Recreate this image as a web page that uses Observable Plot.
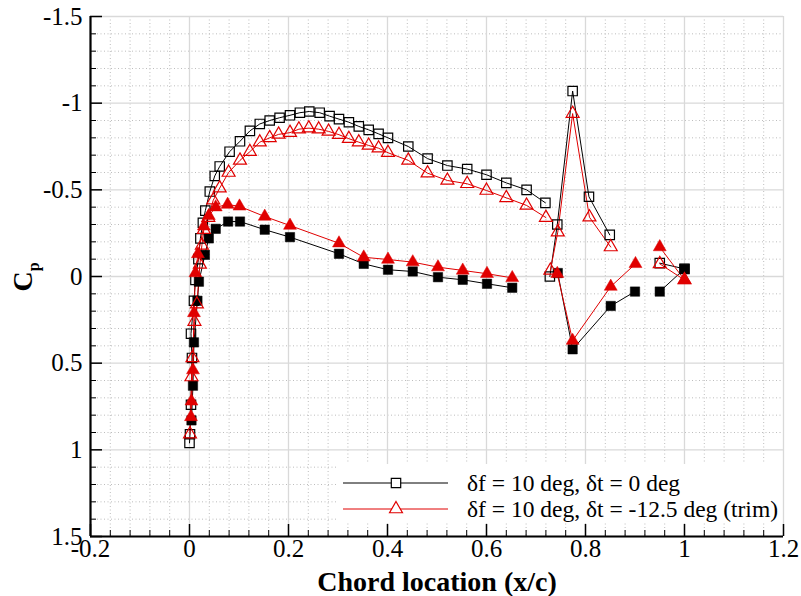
<!DOCTYPE html>
<html><head><meta charset="utf-8">
<script src="https://cdn.jsdelivr.net/npm/d3@7"></script>
<script src="https://cdn.jsdelivr.net/npm/@observablehq/plot@0.6"></script>
<style>
body{margin:0;background:#fff;}
#wrap{position:relative;width:801px;height:596px;font-family:"Liberation Serif","Times New Roman",serif;}
#wrap svg{display:block;}
.ov{position:absolute;left:0;top:0;pointer-events:none;}
</style></head><body><div id="wrap"></div>
<script>
// axis ticks
const xMajor = [-0.2, 0, 0.2, 0.4, 0.6, 0.8, 1, 1.2];
const yMajor = [-1.5, -1, -0.5, 0, 0.5, 1, 1.5];
const xMinor = d3.range(0, 36).filter(i => i % 5 !== 0).map(i => +(-0.2 + i * 0.04).toFixed(3));
const yMinor = d3.range(0, 31).filter(i => i % 5 !== 0).map(i => +(-1.5 + i * 0.1).toFixed(2));

// series 1: δf = 10 deg, δt = 0 deg (black)
const blackUpperX = [0.000, 0.001, 0.003, 0.005, 0.003, 0.009, 0.012, 0.018, 0.022, 0.027, 0.032, 0.041, 0.051, 0.061, 0.081, 0.102, 0.122, 0.142, 0.162, 0.182, 0.203, 0.223, 0.242, 0.263, 0.283, 0.302, 0.322, 0.342, 0.362, 0.382, 0.401, 0.442, 0.481, 0.521, 0.561, 0.600, 0.640, 0.681, 0.719];
const blackUpperCp = [0.96, 0.91, 0.74, 0.47, 0.33, 0.14, 0.02, -0.10, -0.22, -0.31, -0.38, -0.49, -0.58, -0.635, -0.72, -0.78, -0.84, -0.88, -0.90, -0.916, -0.93, -0.945, -0.952, -0.945, -0.925, -0.908, -0.89, -0.866, -0.846, -0.823, -0.80, -0.75, -0.68, -0.64, -0.62, -0.587, -0.54, -0.50, -0.425];
const blackLowerX = [0.004, 0.007, 0.009, 0.016, 0.019, 0.031, 0.039, 0.053, 0.078, 0.102, 0.152, 0.203, 0.302, 0.352, 0.401, 0.451, 0.502, 0.552, 0.601, 0.652];
const blackLowerCp = [0.83, 0.63, 0.38, 0.14, 0.03, -0.125, -0.22, -0.275, -0.317, -0.317, -0.27, -0.227, -0.131, -0.073, -0.039, -0.029, 0.004, 0.019, 0.042, 0.065];
const blackFlapUpperX = [0.728, 0.743, 0.774, 0.807, 0.849];
const blackFlapUpperCp = [0.0, -0.30, -1.07, -0.46, -0.24];
const blackFlapLowerX = [0.744, 0.774, 0.851, 0.900];
const blackFlapLowerCp = [-0.02, 0.42, 0.17, 0.087];
const blackTabUpperX = [0.95, 1.0];
const blackTabUpperCp = [-0.077, -0.044];
const blackTabLowerX = [0.95, 1.0];
const blackTabLowerCp = [0.087, -0.044];

// series 2: δf = 10 deg, δt = -12.5 deg (trim) (red)
const redUpperX = [0.001, 0.004, 0.006, 0.010, 0.015, 0.021, 0.025, 0.029, 0.038, 0.048, 0.061, 0.079, 0.102, 0.122, 0.142, 0.162, 0.180, 0.203, 0.221, 0.241, 0.261, 0.281, 0.302, 0.322, 0.342, 0.362, 0.382, 0.401, 0.442, 0.481, 0.521, 0.561, 0.600, 0.640, 0.681, 0.720];
const redUpperCp = [0.91, 0.58, 0.47, 0.26, 0.16, -0.07, -0.18, -0.27, -0.34, -0.44, -0.51, -0.60, -0.67, -0.72, -0.775, -0.80, -0.82, -0.83, -0.85, -0.856, -0.85, -0.837, -0.818, -0.795, -0.775, -0.756, -0.74, -0.714, -0.67, -0.596, -0.554, -0.535, -0.496, -0.454, -0.41, -0.34];
const redLowerX = [0.003, 0.004, 0.007, 0.009, 0.012, 0.017, 0.029, 0.039, 0.053, 0.077, 0.101, 0.152, 0.203, 0.302, 0.352, 0.401, 0.451, 0.502, 0.552, 0.601, 0.652];
const redLowerCp = [0.81, 0.72, 0.54, 0.21, -0.02, -0.13, -0.29, -0.35, -0.40, -0.415, -0.405, -0.346, -0.294, -0.192, -0.111, -0.098, -0.083, -0.054, -0.035, -0.016, 0.008];
const redFlapUpperX = [0.729, 0.744, 0.774, 0.808, 0.851];
const redFlapUpperCp = [-0.035, -0.256, -0.94, -0.342, -0.17];
const redFlapLowerX = [0.743, 0.774, 0.851, 0.901];
const redFlapLowerCp = [-0.016, 0.37, 0.058, -0.073];
const redTabUpperX = [0.95, 1.0];
const redTabUpperCp = [-0.073, 0.02];
const redTabLowerX = [0.95, 1.0];
const redTabLowerCp = [-0.17, 0.02];

const legendLabels = ["\u03b4f = 10 deg, \u03b4t = 0 deg", "\u03b4f = 10 deg, \u03b4t = -12.5 deg (trim)"];
const BLACK = "#000000", RED = "#e00000";

function seg(xs, cps, key, open) { return xs.map((x, i) => ({x, cp: cps[i], key, open})); }
const black = [
  ...seg(blackUpperX, blackUpperCp, "bu", true),
  ...seg(blackLowerX, blackLowerCp, "bl", false),
  ...seg(blackFlapUpperX, blackFlapUpperCp, "bfu", true),
  ...seg(blackFlapLowerX, blackFlapLowerCp, "bfl", false),
  ...seg(blackTabUpperX, blackTabUpperCp, "btu", true),
  ...seg(blackTabLowerX, blackTabLowerCp, "btl", false)
];
const red = [
  ...seg(redUpperX, redUpperCp, "ru", true),
  ...seg(redLowerX, redLowerCp, "rl", false),
  ...seg(redFlapUpperX, redFlapUpperCp, "rfu", true),
  ...seg(redFlapLowerX, redFlapLowerCp, "rfl", false),
  ...seg(redTabUpperX, redTabUpperCp, "rtu", true),
  ...seg(redTabLowerX, redTabLowerCp, "rtl", false)
];

const W = 801, H = 596, ML = 90, MR = 18, MT = 16, MB = 60;
const PW = W - ML - MR, PH = H - MT - MB;
const fmt = d => String(d);
const SERIF = '"Liberation Serif", "Times New Roman", serif';

const chart = Plot.plot({
  width: W, height: H, marginLeft: ML, marginRight: MR, marginTop: MT, marginBottom: MB,
  style: {fontFamily: SERIF, fontSize: "25px", background: "white", color: "black", overflow: "visible"},
  x: {domain: [-0.2, 1.2]},
  y: {domain: [-1.5, 1.5], reverse: true},
  marks: [
    Plot.ruleX(xMinor, {stroke: "#bdbdbd", strokeDasharray: "1,2.5", strokeWidth: 1}),
    Plot.ruleY(yMinor, {stroke: "#bdbdbd", strokeDasharray: "1,2.5", strokeWidth: 1}),
    Plot.ruleX(xMajor, {stroke: "#d9d9d9", strokeWidth: 1.3}),
    Plot.ruleY(yMajor, {stroke: "#d9d9d9", strokeWidth: 1.3}),
    Plot.line(black, {x: "x", y: "cp", z: "key", stroke: BLACK, strokeWidth: 1}),
    Plot.line(red, {x: "x", y: "cp", z: "key", stroke: RED, strokeWidth: 1}),
    Plot.dot(black.filter(d => d.open), {x: "x", y: "cp", symbol: "square", r: 5.3, stroke: BLACK, fill: "none", strokeWidth: 1.2}),
    Plot.dot(black.filter(d => !d.open), {x: "x", y: "cp", symbol: "square", r: 5.3, fill: BLACK, stroke: BLACK, strokeWidth: 0.5}),
    Plot.dot(red.filter(d => d.open), {x: "x", y: "cp", symbol: "triangle", r: 4.8, stroke: RED, fill: "none", strokeWidth: 1.2}),
    Plot.dot(red.filter(d => !d.open), {x: "x", y: "cp", symbol: "triangle", r: 4.8, fill: RED, stroke: RED, strokeWidth: 0.5}),
    Plot.ruleX([-0.2], {stroke: "black", strokeWidth: 2.2}),
    Plot.ruleY([1.5], {stroke: "black", strokeWidth: 2.2}),
    Plot.tickX(xMajor, {x: d => d, insetTop: PH - 12, stroke: "black", strokeWidth: 1.5}),
    Plot.tickX(xMinor, {x: d => d, insetTop: PH - 6, stroke: "black", strokeWidth: 1}),
    Plot.tickY(yMajor, {y: d => d, insetRight: PW - 12, stroke: "black", strokeWidth: 1.5}),
    Plot.tickY(yMinor, {y: d => d, insetRight: PW - 6, stroke: "black", strokeWidth: 1}),
    Plot.axisX({ticks: xMajor, tickSize: 0, tickPadding: 3, tickFormat: fmt, label: null, fontSize: 25, fontFamily: SERIF}),
    Plot.axisY({ticks: yMajor, tickSize: 0, tickPadding: 8, tickFormat: fmt, label: null, fontSize: 25, fontFamily: SERIF}),
    Plot.text(["Chord location (x/c)"], {frameAnchor: "bottom", lineAnchor: "middle", dy: 46, fontWeight: "bold", fontSize: 28, fontFamily: SERIF})
  ]
});

const wrap = document.getElementById("wrap");
wrap.appendChild(chart);

// overlay: y-axis title and legend
const ov = d3.select(wrap).append("svg").attr("class", "ov").attr("width", W).attr("height", H)
  .style("font-family", SERIF);
const yt = ov.append("text").attr("transform", "translate(32,277) rotate(-90)").attr("text-anchor", "middle")
  .attr("font-weight", "bold").attr("font-size", 28);
yt.append("tspan").text("C");
yt.append("tspan").attr("font-size", 16).attr("dy", 7).text("p");

// legend
const lg = ov.append("g");
lg.append("rect").attr("x", 338).attr("y", 464).attr("width", 444).attr("height", 59).attr("fill", "white");
const rows = [
  {label: legendLabels[0], color: BLACK, sym: d3.symbolSquare, r: 5.3, y: 483},
  {label: legendLabels[1], color: RED, sym: d3.symbolTriangle, r: 4.8, y: 509}
];
rows.forEach(r => {
  lg.append("line").attr("x1", 343).attr("x2", 448).attr("y1", r.y).attr("y2", r.y).attr("stroke", r.color).attr("stroke-width", 1);
  lg.append("path").attr("d", d3.symbol(r.sym, Math.PI * r.r * r.r)()).attr("transform", `translate(396,${r.y})`)
    .attr("fill", "white").attr("stroke", r.color).attr("stroke-width", 1.2);
  lg.append("text").attr("x", 467).attr("y", r.y).attr("dy", "0.33em").attr("font-size", 23.5).text(r.label);
});
</script>
</body></html>
